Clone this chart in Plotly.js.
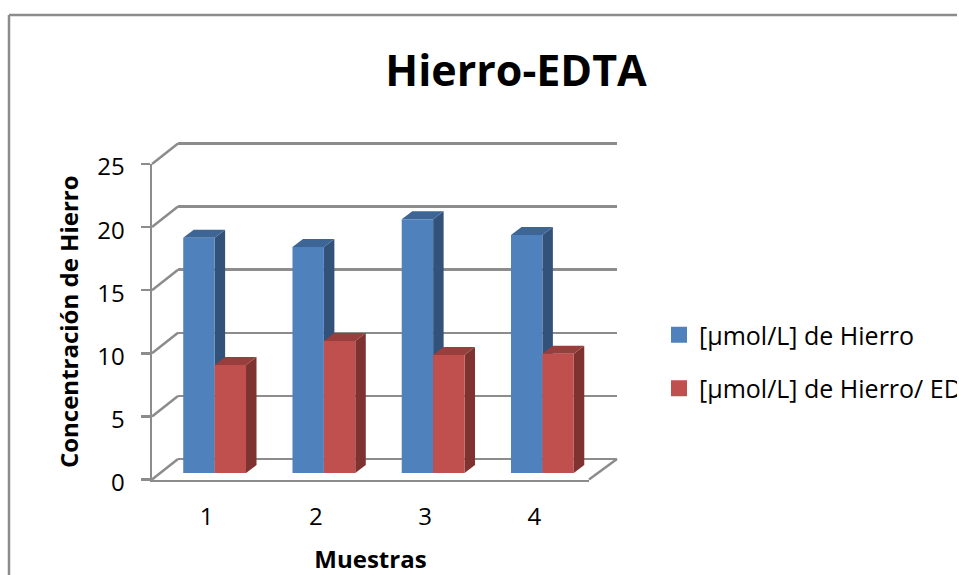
<!DOCTYPE html>
<html>
<head>
<meta charset="utf-8">
<script src="https://cdn.plot.ly/plotly-3.0.1.min.js"></script>
<style>
html,body{margin:0;padding:0;background:#fff;overflow:hidden}
#clip{width:957px;height:575px;overflow:hidden;position:relative}
#chart{width:1100px;height:575px}
</style>
</head>
<body>
<div id="clip"><div id="chart"></div></div>
<script>
const categories = [1, 2, 3, 4];
const hierro = [18.65, 17.9, 20.1, 18.85];
const hierroEdta = [8.55, 10.45, 9.35, 9.45];
const yTicks = [0, 5, 10, 15, 20, 25];
const seriesNames = ['[µmol/L] de Hierro', '[µmol/L] de Hierro/ EDTA'];
const chartTitle = 'Hierro-EDTA';
const xTitle = 'Muestras';
const yTitle = 'Concentración de Hierro';

const W = 1100, H = 575;
const px = v => v / W, py = v => 1 - v / H;
const GRAY = '#8c8c8c', FONT = '"Open Sans", "Noto Sans", sans-serif';
const unitX = (589 - 152) / 4, unitY = 315.5 / 25;
const barW = 31.4 / unitX;
const depthX = 10.5 / unitX, depthY = 8 / unitY;

const shapes = [];
const edge = (x0,y0,x1,y1) => ({type:'line',xref:'paper',yref:'paper',x0:px(x0),x1:px(x1),y0:py(y0),y1:py(y1),line:{color:GRAY,width:2.5},layer:'below'});
// chart-area frame
shapes.push(edge(9,15,9,575));
shapes.push(edge(9,15,1100,15));
// side-wall and floor edges, front plane to back wall
yTicks.forEach(v => shapes.push(edge(152, 479.5 - v*unitY, 178, 459 - v*unitY)));
shapes.push(edge(589, 479.5, 617, 459));
// bar depth faces
function faces(values, off, top, side){
  values.forEach((v,i)=>{
    const l = categories[i]+off, r = l+barW;
    const fmt = p => 'M'+p.map(q=>q[0]+','+q[1]).join('L')+'Z';
    shapes.push({type:'path',xref:'x3',yref:'y3',layer:'below',fillcolor:side,line:{width:0},
      path:fmt([[r,0],[r+depthX,depthY],[r+depthX,v+depthY],[r,v]])});
    shapes.push({type:'path',xref:'x3',yref:'y3',layer:'below',fillcolor:top,line:{width:0},
      path:fmt([[l,v],[l+depthX,v+depthY],[r+depthX,v+depthY],[r,v]])});
  });
}
faces(hierro, -barW, '#3d6596', '#33527a');
faces(hierroEdta, 0, '#983e3c', '#7e3331');

const data = [
  {type:'bar',x:categories,y:hierro,width:barW,offset:-barW,xaxis:'x3',yaxis:'y3',marker:{color:'#4f81bd'},showlegend:false,name:seriesNames[0],hoverinfo:'y'},
  {type:'bar',x:categories,y:hierroEdta,width:barW,offset:0,xaxis:'x3',yaxis:'y3',marker:{color:'#c0504d'},showlegend:false,name:seriesNames[1],hoverinfo:'y'},
  {type:'scatter',mode:'markers',x:[null],y:[null],xaxis:'x3',yaxis:'y3',name:seriesNames[0],legendgroup:'a',marker:{symbol:'square',size:16,color:'#4f81bd'}},
  {type:'scatter',mode:'markers',x:[null],y:[null],xaxis:'x3',yaxis:'y3',name:seriesNames[1],legendgroup:'b',marker:{symbol:'square',size:16,color:'#c0504d'}},
  // invisible carriers so the main and back-wall axes are drawn
  {type:'scatter',mode:'none',x:categories,y:hierro,xaxis:'x',yaxis:'y',showlegend:false,hoverinfo:'skip'},
  {type:'scatter',mode:'none',x:categories,y:hierro,xaxis:'x2',yaxis:'y2',showlegend:false,hoverinfo:'skip'}
];

const layout = {
  width:W,height:H,margin:{l:0,r:0,t:0,b:0,pad:0},
  paper_bgcolor:'#fff',plot_bgcolor:'rgba(0,0,0,0)',
  font:{family:FONT,color:'#000',size:24},
  title:{text:chartTitle,font:{family:FONT,size:43,weight:700,color:'#000'},xref:'paper',yref:'container',x:px(516),xanchor:'center',y:py(71),yanchor:'middle'},
  barmode:'overlay',
  shapes:shapes,
  xaxis:{domain:[px(152),px(589)],range:[0.5,4.5],anchor:'y',tickvals:categories,ticktext:categories.map(String),ticks:'',showgrid:false,zeroline:false,
    showline:true,linecolor:GRAY,linewidth:2.5,tickfont:{size:24},ticklabelstandoff:14,
    title:{text:xTitle,font:{size:24,weight:700},standoff:24}},
  yaxis:{domain:[py(479.5),py(164)],range:[0,25],anchor:'x',tickvals:yTicks,ticks:'outside',ticklen:9,tickwidth:2.5,tickcolor:GRAY,showgrid:false,zeroline:false,
    showline:true,linecolor:GRAY,linewidth:2.5,tickfont:{size:24},ticklabelstandoff:11,ticklabelshift:3,
    title:{text:yTitle,font:{size:24,weight:700},standoff:12}},
  xaxis2:{domain:[px(178),px(617)],range:[0.5,4.5],anchor:'y2',visible:false},
  // range runs one unit past 0 and 25 so the first and last back-wall lines are kept
  yaxis2:{domain:[py(459+unitY),py(143.5-unitY)],range:[-1,26],anchor:'x2',tickvals:yTicks,showticklabels:false,ticks:'',showline:false,zeroline:false,showgrid:true,gridcolor:GRAY,gridwidth:2.5},
  xaxis3:{domain:[px(160),px(597)],range:[0.5,4.5],anchor:'y3',visible:false},
  yaxis3:{domain:[py(473),py(157.5)],range:[0,25],anchor:'x3',visible:false},
  legend:{x:px(659),xanchor:'left',y:py(312),yanchor:'top',bgcolor:'rgba(0,0,0,0)',borderwidth:0,font:{size:25,family:FONT},tracegroupgap:18,itemclick:false,itemdoubleclick:false}
};
Plotly.newPlot('chart',data,layout,{displayModeBar:false,staticPlot:true});
</script>
</body>
</html>
